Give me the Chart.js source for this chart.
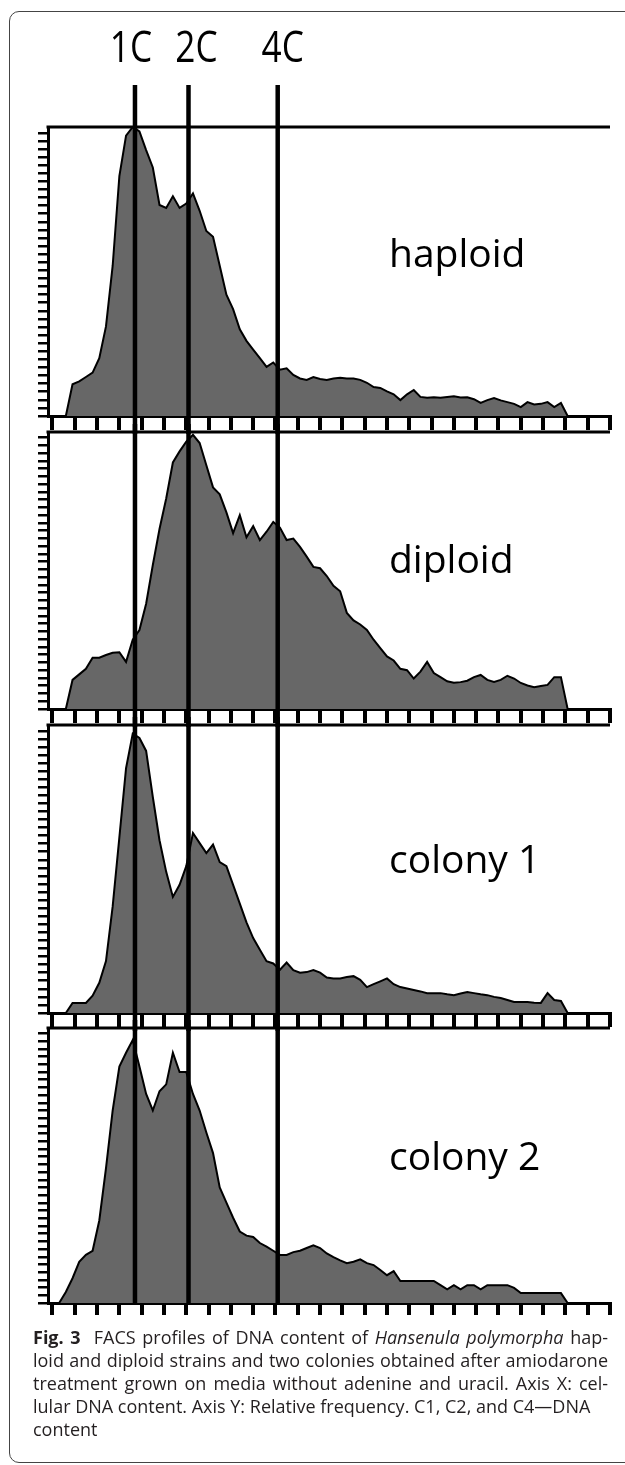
<!DOCTYPE html>
<html>
<head>
<meta charset="utf-8">
<title>FACS profiles</title>
<script src="https://cdn.jsdelivr.net/npm/chart.js@4.4.1/dist/chart.umd.min.js"></script>
<style>
    html, body { margin: 0; padding: 0; background: #fff; }
    #page { position: relative; width: 625px; height: 1465px; overflow: hidden; }
    #frame {
        position: absolute; left: 9px; top: 11px; width: 700px; height: 1450px;
        border: 1.5px solid #444; border-radius: 10px;
    }
    canvas { position: absolute; left: 0; }
    #caption {
        position: absolute; left: 33px; top: 1326px; width: 575px;
        font-family: "Open Sans", sans-serif; font-size: 18px; line-height: 23px; color: #231f20;
    }
    #caption .j { text-align: justify; text-align-last: justify; }
</style>
</head>
<body>
<div id="page">
    <div id="frame"></div>
    <canvas id="haploidChart" width="625" height="434" style="top:0px"></canvas>
    <canvas id="diploidChart" width="625" height="303" style="top:424px"></canvas>
    <canvas id="colony1Chart" width="625" height="314" style="top:717px"></canvas>
    <canvas id="colony2Chart" width="625" height="299" style="top:1020px"></canvas>
    <div id="caption">
        <div class="j"><b>Fig. 3</b>&nbsp; FACS profiles of DNA content of <i>Hansenula polymorpha</i> hap-</div>
        <div class="j">loid and diploid strains and two colonies obtained after amiodarone</div>
        <div class="j">treatment grown on media without adenine and uracil. Axis X: cel-</div>
        <div>lular DNA content. Axis Y: Relative frequency. C1, C2, and C4—DNA</div>
        <div>content</div>
    </div>
</div>

<script>
// ===== DATA =====

// DNA content channel (x) shared by all four histograms
const DNA_CHANNELS = [
    0, 3, 6, 9, 12, 15, 18, 21, 24, 27,
    30, 33, 36, 39, 42, 45, 48, 51, 54, 57,
    60, 63, 66, 69, 72, 75, 78, 81, 84, 87,
    90, 93, 96, 99, 102, 105, 108, 111, 114, 117,
    120, 123, 126, 129, 132, 135, 138, 141, 144, 147,
    150, 153, 156, 159, 162, 165, 168, 171, 174, 177,
    180, 183, 186, 189, 192, 195, 198, 201, 204, 207,
    210, 213, 216, 219, 222, 225, 228, 231
];

// relative frequency, % of panel height
const HAPLOID = [
    0, 0, 0, 11, 12, 13.5, 15, 20, 31, 52,
    83, 97, 100, 98.5, 92, 86, 73, 72, 76, 72,
    73.5, 77, 71, 64, 62, 52, 42, 37, 30, 26,
    23, 20, 17, 18.5, 16, 16.5, 14.2, 13, 12.5, 13.5,
    12.8, 12.5, 13, 13.2, 13, 13, 12.5, 11.5, 10, 9.7,
    8.5, 7.5, 5.5, 7.5, 9, 6.6, 6.3, 6.5, 6.3, 6.6,
    6.8, 6.4, 6.5, 5.8, 4.5, 5.5, 6.2, 5.4, 4.8, 4.2,
    3.1, 4.8, 4, 4.2, 4.8, 3.1, 4.5, 0
];

const DIPLOID = [
    0, 0, 0, 10.5, 12.5, 14.5, 18.5, 18.5, 19.5, 20.3,
    20.5, 17, 25, 28.5, 38, 52, 65, 76, 89, 93,
    96.5, 99, 96, 88, 80, 77.5, 71, 63.5, 70, 62,
    66, 61, 64, 67.5, 65.5, 61, 61.5, 58.5, 55, 51.3,
    50.8, 48, 44.5, 42.5, 34.7, 32, 30.5, 28.5, 25, 22,
    19, 17.5, 14.5, 14, 11, 13.5, 17, 13, 11.5, 10,
    9.5, 9.7, 10.2, 11.5, 12.3, 10.5, 9.8, 10.5, 12, 11,
    9.4, 8.5, 7.9, 8.3, 8.7, 11.5, 11.5, 0
];

const COLONY_1 = [
    0, 0, 0, 3.5, 3.5, 3.5, 6, 10.5, 18, 37,
    61, 85, 97, 95.5, 91, 75, 60, 49, 40.3, 44.5,
    51, 62.5, 59, 55.5, 58.5, 52.4, 51, 44.5, 38, 31.5,
    26, 22, 18, 17.2, 15, 17.5, 14.9, 14, 14.2, 14.9,
    14, 12.3, 12, 12, 12.5, 12.8, 11.5, 9, 10, 11,
    12, 10, 9, 8.5, 8, 7.5, 6.9, 6.9, 6.9, 6.5,
    6.2, 6.8, 7.3, 6.9, 6.5, 6.2, 5.6, 5.2, 4.5, 3.8,
    3.8, 3.8, 3.6, 3.5, 6.9, 4.5, 4.2, 0
];

const COLONY_2 = [
    0, 0, 4, 9, 15, 17.5, 19, 30, 49, 70,
    86, 91, 95.6, 86, 76, 70, 77, 79.5, 91, 84,
    84, 76, 70, 62, 54.5, 42, 36.5, 31, 26, 24.5,
    24, 21.8, 20.5, 19, 17.5, 17.5, 18.5, 19, 20, 21,
    20, 18, 16.7, 15.5, 14.5, 15, 15.9, 14.5, 13.8, 12,
    10.1, 11.6, 8, 8, 8, 8, 8, 8, 6.5, 5,
    6.5, 5, 6.5, 6.5, 5, 6.5, 6.5, 6.5, 6.5, 5.5,
    3.6, 3.6, 3.6, 3.6, 3.6, 3.6, 3.6, 0
];

// ploidy reference lines on the DNA content axis
const PLOIDY_LABELS = ['1C', '2C', '4C'];
const PLOIDY_MARKS = [37, 61, 101];

const PANEL_NAMES = ['haploid', 'diploid', 'colony 1', 'colony 2'];

// ===== CHARTS =====

const HEADER_SHIFT = [-4, 8, 5];

const panelDecor = {
    id: 'panelDecor',
    afterDatasetsDraw(chart, args, opts) {
        const ctx = chart.ctx;
        const area = chart.chartArea;
        const x = chart.scales.x;
        ctx.save();
        ctx.strokeStyle = '#000';

        // top frame of the panel
        ctx.lineWidth = 3;
        ctx.beginPath();
        ctx.moveTo(area.left - 1.5, area.top);
        ctx.lineTo(area.right, area.top);
        ctx.stroke();

        // 1C / 2C / 4C lines
        const bottom = opts.lastPanel ? area.bottom : chart.height;
        ctx.lineWidth = 4.5;
        PLOIDY_MARKS.forEach(m => {
            const px = x.getPixelForValue(m);
            ctx.beginPath();
            ctx.moveTo(px, opts.lineTop);
            ctx.lineTo(px, bottom);
            ctx.stroke();
        });

        // sample name
        ctx.fillStyle = '#000';
        ctx.font = '39px "Open Sans"';
        ctx.textAlign = 'left';
        ctx.textBaseline = 'alphabetic';
        ctx.fillText(opts.label, area.left + 341, area.top + opts.labelDy);

        if (opts.header) {
            ctx.font = '44px "Open Sans"';
            ctx.textAlign = 'center';
            PLOIDY_LABELS.forEach((t, i) => {
                const cx = x.getPixelForValue(PLOIDY_MARKS[i]) + HEADER_SHIFT[i];
                ctx.save();
                ctx.translate(cx, 62);
                ctx.scale(0.8, 1);
                ctx.fillText(t, 0, 0);
                ctx.restore();
            });
        }
        ctx.restore();
    }
};

function createPanel(canvasId, values, decor, padTop, tickLength) {
    const ctx = document.getElementById(canvasId);
    return new Chart(ctx, {
        type: 'line',
        data: {
            datasets: [{
                data: DNA_CHANNELS.map((c, i) => ({ x: c, y: values[i] })),
                fill: 'origin',
                backgroundColor: '#676767',
                borderColor: '#000',
                borderWidth: 2,
                borderJoinStyle: 'miter',
                tension: 0,
                pointRadius: 0
            }]
        },
        options: {
            responsive: false,
            maintainAspectRatio: false,
            animation: false,
            events: [],
            layout: {
                autoPadding: false,
                padding: { top: padTop, left: 38, right: 15, bottom: 4 }
            },
            plugins: {
                legend: { display: false },
                tooltip: { enabled: false },
                panelDecor: decor
            },
            scales: {
                x: {
                    type: 'linear',
                    min: -2,
                    max: 250,
                    ticks: { display: false, stepSize: 10, includeBounds: false },
                    grid: {
                        drawOnChartArea: false,
                        drawTicks: true,
                        tickLength: tickLength,
                        lineWidth: 4,
                        color: '#000'
                    },
                    border: { display: true, color: '#000', width: 3 }
                },
                y: {
                    min: 0,
                    max: 100,
                    ticks: { display: false, stepSize: 2.8, includeBounds: false },
                    grid: {
                        drawOnChartArea: false,
                        drawTicks: true,
                        tickLength: 10,
                        lineWidth: 2.5,
                        color: '#000'
                    },
                    border: { display: true, color: '#000', width: 3 }
                }
            }
        },
        plugins: [panelDecor]
    });
}

createPanel('haploidChart', HAPLOID,
    { label: PANEL_NAMES[0], labelDy: 140, lineTop: 85, header: true }, 127, 14);
createPanel('diploidChart', DIPLOID,
    { label: PANEL_NAMES[1], labelDy: 141, lineTop: 0 }, 8, 14);
createPanel('colony1Chart', COLONY_1,
    { label: PANEL_NAMES[2], labelDy: 148, lineTop: 0 }, 8, 14);
createPanel('colony2Chart', COLONY_2,
    { label: PANEL_NAMES[3], labelDy: 142, lineTop: 0, lastPanel: true }, 8, 12);
</script>
</body>
</html>
